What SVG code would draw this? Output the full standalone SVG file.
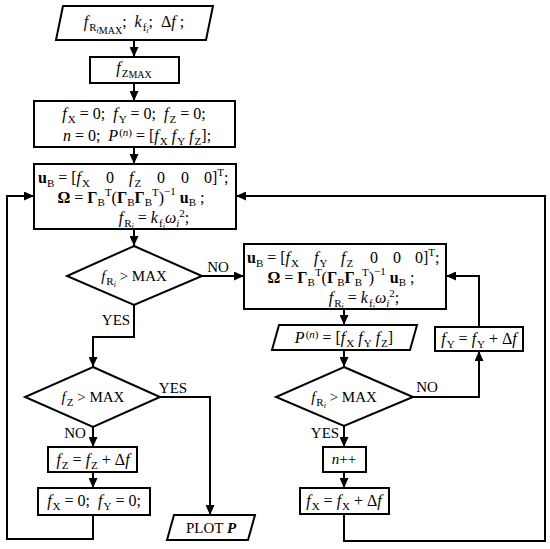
<svg xmlns="http://www.w3.org/2000/svg" width="550" height="549" viewBox="0 0 550 549">
<defs>
<marker id="ah" markerUnits="userSpaceOnUse" markerWidth="10" markerHeight="9" refX="10" refY="4.5" orient="auto">
<path d="M0,0 L10,4.5 L0,9 z" fill="#000"/>
</marker>
<style>
.t{font-family:"Liberation Serif","Times New Roman",serif;font-size:16px;fill:#000}
.l{font-family:"Liberation Serif","Times New Roman",serif;font-size:15px;fill:#000}
.i{font-style:italic}
.b{font-weight:bold}
.sb{font-size:11px}
.ss{font-size:8px}
.sm{font-size:10px}
.shape{fill:#fff;stroke:#000;stroke-width:2}
.c{fill:none;stroke:#000;stroke-width:2}
.a{marker-end:url(#ah)}
</style>
</defs>
<rect width="550" height="549" fill="#fff"/>

<g id="connectors">
<path class="c a" d="M134,40 V57"/>
<path class="c a" d="M134,83 V101"/>
<path class="c a" d="M134,147 V164"/>
<path class="c a" d="M134,229 V246"/>
<path class="c a" d="M202,276 H244"/>
<path class="c a" d="M134,305 V337 H93 V367"/>
<path class="c a" d="M160,397 H210 V515"/>
<path class="c a" d="M93,427 V447"/>
<path class="c a" d="M93,472 V488"/>
<path class="c a" d="M93,515 V539 H7 V196 H34"/>
<path class="c a" d="M344,309 V325"/>
<path class="c a" d="M344,350 V367"/>
<path class="c a" d="M413,397 H479 V351"/>
<path class="c a" d="M479,327 V276 H446"/>
<path class="c a" d="M344,426 V447"/>
<path class="c a" d="M344,472 V488"/>
<path class="c a" d="M344,514 V541 H545 V196 H236"/>
<text class="l" x="218" y="272" text-anchor="middle">NO</text>
<text class="l" x="116" y="325" text-anchor="middle">YES</text>
<text class="l" x="173" y="393" text-anchor="middle">YES</text>
<text class="l" x="75" y="438" text-anchor="middle">NO</text>
<text class="l" x="427" y="392" text-anchor="middle">NO</text>
<text class="l" x="325" y="438" text-anchor="middle">YES</text>
</g>

<g id="input">
<polygon class="shape" points="63,6 213,6 206,40 56,40"/>
<text class="t" x="134" y="27" text-anchor="middle"><tspan class="i">f</tspan><tspan class="sb" dx="1" dy="4">R</tspan><tspan class="ss i" dy="2">i</tspan><tspan class="sm" dy="1">MAX</tspan><tspan dy="-7">;&#160;&#160;</tspan><tspan class="i">k</tspan><tspan class="sb" dx="1" dy="4">f</tspan><tspan class="ss i" dy="2">i</tspan><tspan dy="-6">;&#160;&#160;Δ</tspan><tspan class="i">f</tspan> ;</text>
</g>

<g id="fzmax">
<rect class="shape" x="90" y="57" width="89" height="26"/>
<text class="t" x="134" y="73" text-anchor="middle"><tspan class="i">f</tspan><tspan class="sb" dx="1" dy="4">Z</tspan><tspan class="sm" dy="1">MAX</tspan></text>
</g>

<g id="init">
<rect class="shape" x="34" y="101" width="201" height="46"/>
<text class="t" x="134" y="119" text-anchor="middle"><tspan class="i">f</tspan><tspan class="sb" dx="1" dy="4">X</tspan><tspan dy="-4"> = 0;&#160; </tspan><tspan class="i">f</tspan><tspan class="sb" dx="1" dy="4">Y</tspan><tspan dy="-4"> = 0;&#160; </tspan><tspan class="i">f</tspan><tspan class="sb" dx="1" dy="4">Z</tspan><tspan dy="-4"> = 0;</tspan></text>
<text class="t" x="137" y="141" text-anchor="middle"><tspan class="i">n</tspan> = 0;&#160; <tspan class="i">P</tspan><tspan class="sb" dx="1" dy="-5">(<tspan class="i">n</tspan>)</tspan><tspan dy="5"> = [</tspan><tspan class="i">f</tspan><tspan class="sb" dx="1" dy="4">X</tspan><tspan dy="-4"> </tspan><tspan class="i">f</tspan><tspan class="sb" dx="1" dy="4">Y</tspan><tspan dy="-4"> </tspan><tspan class="i">f</tspan><tspan class="sb" dx="1" dy="4">Z</tspan><tspan dy="-4">];</tspan></text>
</g>

<g id="calc1">
<rect class="shape" x="34" y="164" width="202" height="65"/>
<text class="t" x="38" y="183"><tspan class="b">u</tspan><tspan class="sb" dy="4">B</tspan><tspan dy="-4"> = [</tspan><tspan class="i">f</tspan><tspan class="sb" dx="1" dy="4">X</tspan></text>
<text class="t" x="106" y="183">0</text>
<text class="t" x="129" y="183"><tspan class="i">f</tspan><tspan class="sb" dx="1" dy="4">Z</tspan></text>
<text class="t" x="157" y="183">0</text>
<text class="t" x="181" y="183">0</text>
<text class="t" x="204" y="183">0]<tspan class="sb" dy="-7">T</tspan><tspan dy="7">;</tspan></text>
<text class="t" x="131" y="203" text-anchor="middle"><tspan class="b">Ω</tspan> = <tspan class="b">Γ</tspan><tspan class="sb" dy="3">B</tspan><tspan class="sb" dy="-10">T</tspan><tspan dy="7">(</tspan><tspan class="b">Γ</tspan><tspan class="sb" dy="3">B</tspan><tspan class="b" dy="-3">Γ</tspan><tspan class="sb" dy="3">B</tspan><tspan class="sb" dy="-10">T</tspan><tspan dy="7">)</tspan><tspan class="sb" dy="-8">−1</tspan><tspan class="b" dy="8"> u</tspan><tspan class="sb" dy="3">B</tspan><tspan dy="-3"> ;</tspan></text>
<text class="t" x="154" y="223" text-anchor="middle"><tspan class="i">f</tspan><tspan class="sb" dx="1" dy="4">R</tspan><tspan class="ss i" dy="2">i</tspan><tspan dy="-6"> = </tspan><tspan class="i">k</tspan><tspan class="sb" dx="1" dy="4">f</tspan><tspan class="ss i" dy="2">i</tspan><tspan class="i" dy="-6">ω</tspan><tspan class="sb i" dy="4">i</tspan><tspan class="sb" dy="-10">2</tspan><tspan dy="6">;</tspan></text>
</g>

<g id="decision1">
<polygon class="shape" points="134,246 202,276 134,305 67,276"/>
<text class="l" x="134" y="281" text-anchor="middle"><tspan class="i">f</tspan><tspan class="sb" dx="1" dy="4">R</tspan><tspan class="ss i" dy="2">i</tspan><tspan dy="-6"> &gt; MAX</tspan></text>
</g>

<g id="decision2">
<polygon class="shape" points="93,367 160,397 93,427 25,397"/>
<text class="l" x="93" y="402" text-anchor="middle"><tspan class="i">f</tspan><tspan class="sb" dx="1" dy="4">Z</tspan><tspan dy="-4"> &gt; MAX</tspan></text>
</g>

<g id="incz">
<rect class="shape" x="48" y="447" width="89" height="25"/>
<text class="t" x="93" y="465" text-anchor="middle"><tspan class="i">f</tspan><tspan class="sb" dx="1" dy="4">Z</tspan><tspan dy="-4"> = </tspan><tspan class="i">f</tspan><tspan class="sb" dx="1" dy="4">Z</tspan><tspan dy="-4"> + Δ</tspan><tspan class="i">f</tspan></text>
</g>

<g id="resetxy">
<rect class="shape" x="38" y="488" width="112" height="27"/>
<text class="t" x="94" y="506" text-anchor="middle"><tspan class="i">f</tspan><tspan class="sb" dx="1" dy="4">X</tspan><tspan dy="-4"> = 0;&#160; </tspan><tspan class="i">f</tspan><tspan class="sb" dx="1" dy="4">Y</tspan><tspan dy="-4"> = 0;</tspan></text>
</g>

<g id="plot">
<polygon class="shape" points="174,515 255,515 248,540 167,540"/>
<text class="l" x="211" y="533" text-anchor="middle">PLOT <tspan class="b i">P</tspan></text>
</g>

<g id="calc2">
<rect class="shape" x="244" y="244" width="202" height="65"/>
<text class="t" x="247" y="263"><tspan class="b">u</tspan><tspan class="sb" dy="4">B</tspan><tspan dy="-4"> = [</tspan><tspan class="i">f</tspan><tspan class="sb" dx="1" dy="4">X</tspan></text>
<text class="t" x="314" y="263"><tspan class="i">f</tspan><tspan class="sb" dx="1" dy="4">Y</tspan></text>
<text class="t" x="341" y="263"><tspan class="i">f</tspan><tspan class="sb" dx="1" dy="4">Z</tspan></text>
<text class="t" x="370" y="263">0</text>
<text class="t" x="393" y="263">0</text>
<text class="t" x="415" y="263">0]<tspan class="sb" dy="-7">T</tspan><tspan dy="7">;</tspan></text>
<text class="t" x="341" y="283" text-anchor="middle"><tspan class="b">Ω</tspan> = <tspan class="b">Γ</tspan><tspan class="sb" dy="3">B</tspan><tspan class="sb" dy="-10">T</tspan><tspan dy="7">(</tspan><tspan class="b">Γ</tspan><tspan class="sb" dy="3">B</tspan><tspan class="b" dy="-3">Γ</tspan><tspan class="sb" dy="3">B</tspan><tspan class="sb" dy="-10">T</tspan><tspan dy="7">)</tspan><tspan class="sb" dy="-8">−1</tspan><tspan class="b" dy="8"> u</tspan><tspan class="sb" dy="3">B</tspan><tspan dy="-3"> ;</tspan></text>
<text class="t" x="364" y="303" text-anchor="middle"><tspan class="i">f</tspan><tspan class="sb" dx="1" dy="4">R</tspan><tspan class="ss i" dy="2">i</tspan><tspan dy="-6"> = </tspan><tspan class="i">k</tspan><tspan class="sb" dx="1" dy="4">f</tspan><tspan class="ss i" dy="2">i</tspan><tspan class="i" dy="-6">ω</tspan><tspan class="sb i" dy="4">i</tspan><tspan class="sb" dy="-10">2</tspan><tspan dy="6">;</tspan></text>
</g>

<g id="storeP">
<polygon class="shape" points="279,325 417,325 410,350 272,350"/>
<text class="t" x="344" y="343" text-anchor="middle"><tspan class="i">P</tspan><tspan class="sb" dx="1" dy="-5">(<tspan class="i">n</tspan>)</tspan><tspan dy="5"> = [</tspan><tspan class="i">f</tspan><tspan class="sb" dx="1" dy="4">X</tspan><tspan dy="-4"> </tspan><tspan class="i">f</tspan><tspan class="sb" dx="1" dy="4">Y</tspan><tspan dy="-4"> </tspan><tspan class="i">f</tspan><tspan class="sb" dx="1" dy="4">Z</tspan><tspan dy="-4">]</tspan></text>
</g>

<g id="incy">
<rect class="shape" x="435" y="327" width="88" height="24"/>
<text class="t" x="479" y="344" text-anchor="middle"><tspan class="i">f</tspan><tspan class="sb" dx="1" dy="4">Y</tspan><tspan dy="-4"> = </tspan><tspan class="i">f</tspan><tspan class="sb" dx="1" dy="4">Y</tspan><tspan dy="-4"> + Δ</tspan><tspan class="i">f</tspan></text>
</g>

<g id="decision3">
<polygon class="shape" points="344,367 413,397 344,426 276,397"/>
<text class="l" x="344" y="402" text-anchor="middle"><tspan class="i">f</tspan><tspan class="sb" dx="1" dy="4">R</tspan><tspan class="ss i" dy="2">i</tspan><tspan dy="-6"> &gt; MAX</tspan></text>
</g>

<g id="incn">
<rect class="shape" x="323" y="447" width="43" height="25"/>
<text class="l" x="344" y="464" text-anchor="middle"><tspan class="i">n</tspan>++</text>
</g>

<g id="incx">
<rect class="shape" x="300" y="488" width="89" height="26"/>
<text class="t" x="344" y="506" text-anchor="middle"><tspan class="i">f</tspan><tspan class="sb" dx="1" dy="4">X</tspan><tspan dy="-4"> = </tspan><tspan class="i">f</tspan><tspan class="sb" dx="1" dy="4">X</tspan><tspan dy="-4"> + Δ</tspan><tspan class="i">f</tspan></text>
</g>
</svg>
